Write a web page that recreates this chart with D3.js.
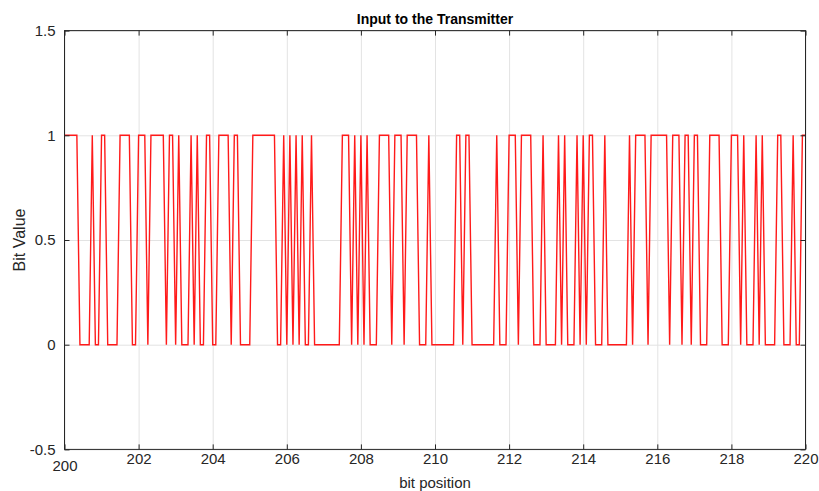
<!DOCTYPE html>
<html>
<head>
<meta charset="utf-8">
<script src="https://cdn.jsdelivr.net/npm/d3@7/dist/d3.min.js"></script>
<style>
  html, body { margin: 0; padding: 0; background: #ffffff; }
  svg { display: block; font-family: "Liberation Sans", Arial, Helvetica, sans-serif; }
</style>
</head>
<body>
<svg id="chart" width="819" height="491"></svg>
<script>
// Transmitted bit stream, 12 samples per bit-position unit, starting at 200
const startPosition = 200;
const samplesPerUnit = 12;
const bitStream = [
  1,1,1,1,1,0,0,0,0,1,0,0,
  1,1,0,0,0,0,1,1,1,1,0,0,
  1,1,1,0,1,1,1,1,1,0,1,1,
  0,1,0,0,0,1,0,1,0,0,1,1,
  0,0,1,1,1,1,0,1,1,0,0,0,
  0,1,1,1,1,1,1,1,1,0,0,1,
  0,1,0,1,0,1,0,0,1,0,0,0,
  0,0,0,0,0,0,1,1,1,0,1,0,
  1,0,1,0,0,0,1,1,1,1,0,1,
  1,1,0,1,1,1,1,0,0,0,1,0,
  0,0,0,0,0,0,0,1,1,0,1,1,
  0,0,0,0,0,0,0,0,1,0,0,0,
  1,1,1,0,1,1,1,1,0,0,0,1,
  0,0,0,0,1,0,1,0,0,0,1,0,
  1,0,1,1,0,0,0,1,0,0,0,0,
  0,0,0,1,0,1,1,1,1,0,1,1,
  1,1,1,1,0,1,1,1,0,1,1,0,
  1,1,0,0,0,1,1,1,1,0,0,0,
  1,1,1,0,1,0,0,0,1,0,1,0,
  0,0,0,1,1,0,0,0,1,0,0,1,
  1
];

const xTicks = [200, 202, 204, 206, 208, 210, 212, 214, 216, 218, 220];
const yTicks = [-0.5, 0, 0.5, 1, 1.5];
const yTickLabels = ["-0.5", "0", "0.5", "1", "1.5"];
const titleText = "Input to the Transmitter";
const xLabelText = "bit position";
const yLabelText = "Bit Value";

const svg = d3.select("#chart");
const plotLeft = 64.5, plotRight = 805.5, plotTop = 30.6, plotBottom = 449.4;
const plotW = plotRight - plotLeft, plotH = plotBottom - plotTop;

const x = d3.scaleLinear().domain([200, 220]).range([plotLeft, plotRight]);
const y = d3.scaleLinear().domain([-0.5, 1.5]).range([plotBottom, plotTop]);

const gridColor = "#e3e3e3";
const axisColor = "#262626";

// grid lines
svg.append("g")
  .attr("transform", `translate(0,${plotBottom})`)
  .call(d3.axisBottom(x).tickValues(xTicks).tickSize(-plotH).tickFormat(""))
  .call(g => g.select(".domain").remove())
  .call(g => g.selectAll("line").attr("stroke", gridColor).attr("stroke-width", 1));
svg.append("g")
  .attr("transform", `translate(${plotLeft},0)`)
  .call(d3.axisLeft(y).tickValues(yTicks).tickSize(-plotW).tickFormat(""))
  .call(g => g.select(".domain").remove())
  .call(g => g.selectAll("line").attr("stroke", gridColor).attr("stroke-width", 1));

// signal trace
const samples = bitStream.map((v, i) => ({ pos: startPosition + i / samplesPerUnit, v }));
svg.append("path")
  .datum(samples)
  .attr("fill", "none")
  .attr("stroke", "#ff1a1a")
  .attr("stroke-width", 1.4)
  .attr("stroke-linejoin", "miter")
  .attr("d", d3.line().x(d => x(d.pos)).y(d => y(d.v)));

// axes with inward ticks
const styleAxis = g => {
  g.select(".domain").remove();
  g.selectAll("line").attr("stroke", axisColor);
  g.selectAll("text").attr("fill", axisColor).attr("font-size", 15);
};
const xAxis = svg.append("g")
  .attr("transform", `translate(0,${plotBottom})`)
  .call(d3.axisBottom(x).tickValues(xTicks).tickSize(-5).tickPadding(4).tickFormat(d3.format("d")))
  .call(styleAxis);
xAxis.selectAll(".tick").filter(d => d === 200).select("text").attr("dy", "1.2em");

svg.append("g")
  .attr("transform", `translate(0,${plotTop})`)
  .call(d3.axisTop(x).tickValues(xTicks).tickSize(-5).tickFormat(""))
  .call(styleAxis);

svg.append("g")
  .attr("transform", `translate(${plotLeft},0)`)
  .call(d3.axisLeft(y).tickValues(yTicks).tickSize(-5).tickPadding(9)
    .tickFormat(d => yTickLabels[yTicks.indexOf(d)]))
  .call(styleAxis);

svg.append("g")
  .attr("transform", `translate(${plotRight},0)`)
  .call(d3.axisRight(y).tickValues(yTicks).tickSize(-5).tickFormat(""))
  .call(styleAxis);

// frame
svg.append("rect")
  .attr("x", plotLeft).attr("y", plotTop)
  .attr("width", plotW).attr("height", plotH)
  .attr("fill", "none").attr("stroke", axisColor).attr("stroke-width", 1);

// labels
svg.append("text")
  .attr("x", (plotLeft + plotRight) / 2).attr("y", 24)
  .attr("text-anchor", "middle")
  .attr("font-size", 14).attr("font-weight", "bold")
  .attr("fill", "#000")
  .text(titleText);

svg.append("text")
  .attr("x", (plotLeft + plotRight) / 2).attr("y", 488)
  .attr("text-anchor", "middle")
  .attr("font-size", 15).attr("fill", axisColor)
  .text(xLabelText);

svg.append("text")
  .attr("transform", `translate(25,${(plotTop + plotBottom) / 2}) rotate(-90)`)
  .attr("text-anchor", "middle")
  .attr("font-size", 16).attr("fill", axisColor)
  .text(yLabelText);
</script>
</body>
</html>
